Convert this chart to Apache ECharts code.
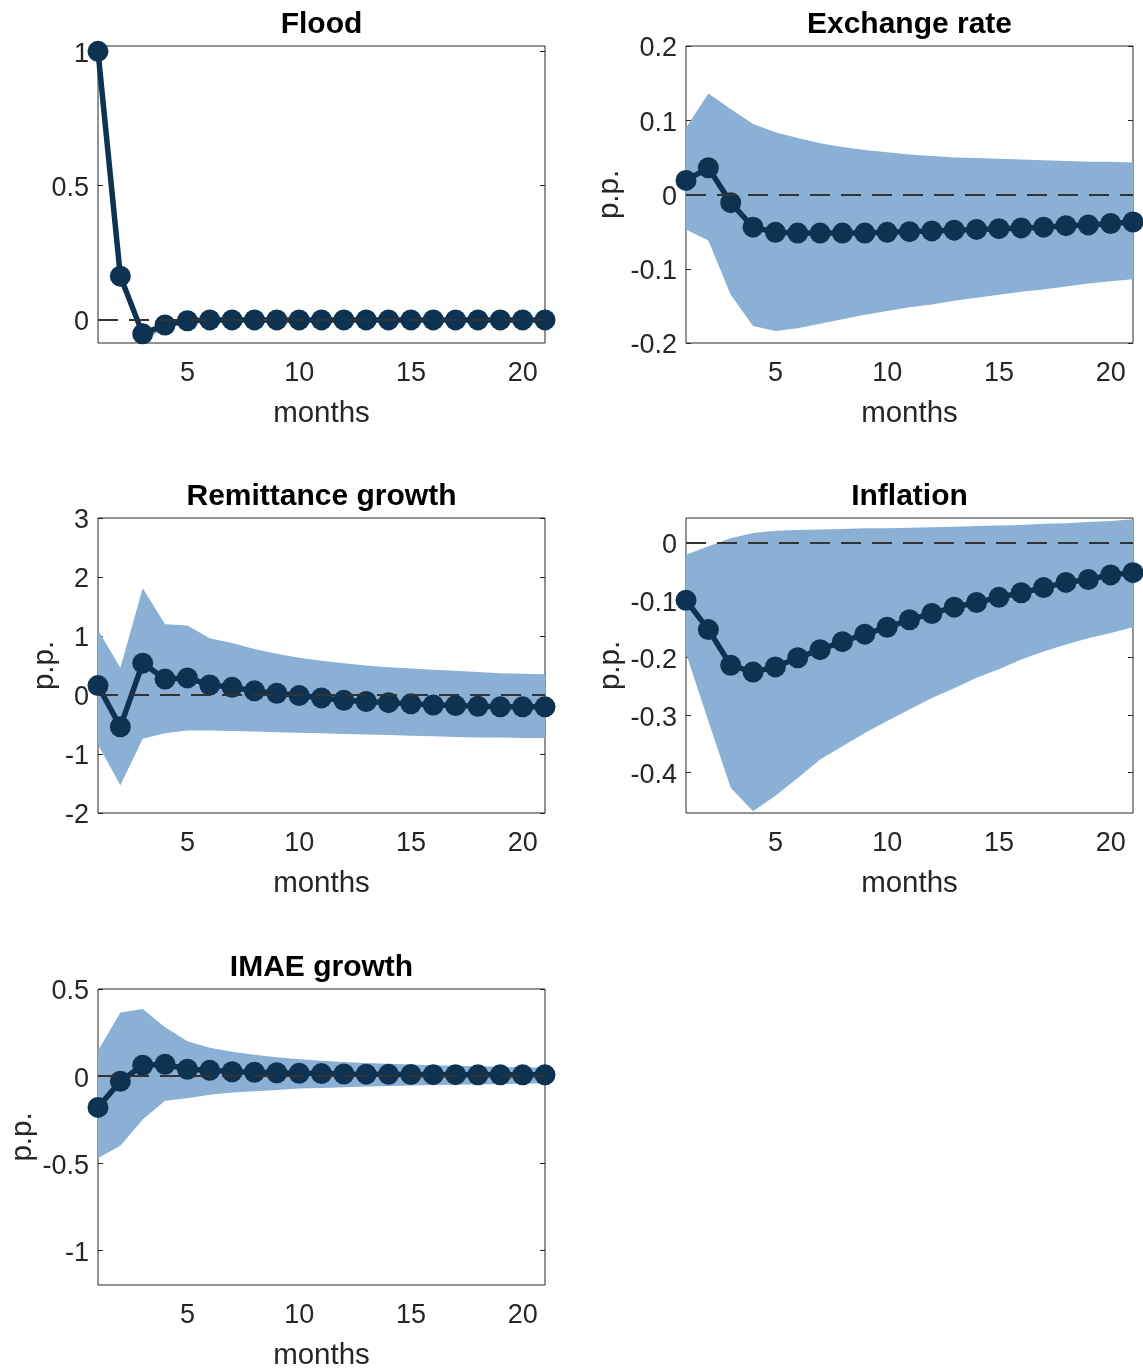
<!DOCTYPE html>
<html>
<head>
<meta charset="utf-8">
<script src="https://cdn.jsdelivr.net/npm/echarts@6/dist/echarts.min.js"></script>
<style>
  html, body { margin: 0; padding: 0; background: #fff; }
  #chart { width: 1143px; height: 1371px; }
</style>
</head>
<body>
<div id="chart"></div>
<script>
// Impulse responses to a flood shock, with confidence bands
const months = [1, 2, 3, 4, 5, 6, 7, 8, 9, 10, 11, 12, 13, 14, 15, 16, 17, 18, 19, 20, 21];
const monthTicks = [5, 10, 15, 20];

const flood   = [1, 0.163, -0.052, -0.019, -0.003, 0, 0, 0, 0, 0, 0, 0, 0, 0, 0, 0, 0, 0, 0, 0, 0];
const floodLo = [1, 0.150, -0.080, -0.030, -0.006, 0, 0, 0, 0, 0, 0, 0, 0, 0, 0, 0, 0, 0, 0, 0, 0];
const floodHi = [1, 0.178, -0.040, -0.010, 0.001, 0, 0, 0, 0, 0, 0, 0, 0, 0, 0, 0, 0, 0, 0, 0, 0];
const floodTicks = [0, 0.5, 1];

const exchange   = [0.019, 0.036, -0.011, -0.044, -0.051, -0.052, -0.052, -0.052, -0.052, -0.051, -0.050, -0.049, -0.048, -0.047, -0.046, -0.045, -0.044, -0.042, -0.041, -0.039, -0.037];
const exchangeLo = [-0.047, -0.062, -0.135, -0.177, -0.184, -0.180, -0.174, -0.168, -0.162, -0.157, -0.152, -0.148, -0.143, -0.139, -0.135, -0.131, -0.128, -0.124, -0.120, -0.117, -0.114];
const exchangeHi = [0.090, 0.136, 0.115, 0.095, 0.084, 0.076, 0.069, 0.064, 0.060, 0.057, 0.054, 0.052, 0.050, 0.049, 0.048, 0.047, 0.046, 0.045, 0.044, 0.044, 0.043];
const exchangeTicks = [-0.2, -0.1, 0, 0.1, 0.2];

const remittance   = [0.16, -0.54, 0.54, 0.27, 0.29, 0.17, 0.13, 0.07, 0.03, -0.01, -0.05, -0.09, -0.11, -0.13, -0.15, -0.17, -0.18, -0.19, -0.20, -0.20, -0.20];
const remittanceLo = [-0.84, -1.53, -0.74, -0.65, -0.60, -0.60, -0.61, -0.62, -0.63, -0.64, -0.65, -0.66, -0.67, -0.68, -0.69, -0.70, -0.71, -0.72, -0.72, -0.73, -0.73];
const remittanceHi = [1.10, 0.46, 1.81, 1.20, 1.18, 0.96, 0.88, 0.78, 0.70, 0.63, 0.58, 0.54, 0.50, 0.47, 0.45, 0.43, 0.41, 0.39, 0.37, 0.36, 0.35];
const remittanceTicks = [-2, -1, 0, 1, 2, 3];

const inflation   = [-0.100, -0.151, -0.213, -0.225, -0.216, -0.200, -0.186, -0.172, -0.159, -0.147, -0.134, -0.123, -0.112, -0.104, -0.095, -0.087, -0.078, -0.069, -0.064, -0.056, -0.052];
const inflationLo = [-0.192, -0.310, -0.426, -0.467, -0.440, -0.409, -0.377, -0.354, -0.331, -0.310, -0.290, -0.270, -0.253, -0.235, -0.220, -0.203, -0.189, -0.177, -0.166, -0.157, -0.147];
const inflationHi = [-0.021, -0.006, 0.008, 0.017, 0.021, 0.022, 0.023, 0.024, 0.025, 0.025, 0.026, 0.027, 0.028, 0.029, 0.030, 0.031, 0.033, 0.034, 0.036, 0.038, 0.041];
const inflationTicks = [-0.4, -0.3, -0.2, -0.1, 0];

const imae   = [-0.180, -0.030, 0.062, 0.068, 0.039, 0.033, 0.025, 0.022, 0.019, 0.016, 0.014, 0.012, 0.011, 0.010, 0.009, 0.008, 0.008, 0.007, 0.007, 0.007, 0.007];
const imaeLo = [-0.47, -0.40, -0.25, -0.142, -0.128, -0.108, -0.095, -0.087, -0.080, -0.072, -0.068, -0.064, -0.060, -0.057, -0.054, -0.052, -0.050, -0.048, -0.046, -0.044, -0.042];
const imaeHi = [0.145, 0.365, 0.385, 0.280, 0.200, 0.163, 0.140, 0.122, 0.108, 0.097, 0.088, 0.081, 0.075, 0.070, 0.066, 0.062, 0.059, 0.056, 0.053, 0.051, 0.049];
const imaeTicks = [-1, -0.5, 0, 0.5];

// Panel layout: data references plus where each axes box sits
const panels = [
  { title: 'Flood',             mid: flood,      lo: floodLo,      hi: floodHi,      ticks: floodTicks,      yMin: -0.086, yMax: 1.02,  yName: '',     left: 98,  top: 46,  height: 297, nameGap: 61 },
  { title: 'Exchange rate',     mid: exchange,   lo: exchangeLo,   hi: exchangeHi,   ticks: exchangeTicks,   yMin: -0.2,   yMax: 0.2,   yName: 'p.p.', left: 686, top: 46,  height: 297, nameGap: 61 },
  { title: 'Remittance growth', mid: remittance, lo: remittanceLo, hi: remittanceHi, ticks: remittanceTicks, yMin: -2,     yMax: 3,     yName: 'p.p.', left: 98,  top: 518, height: 295, nameGap: 38 },
  { title: 'Inflation',         mid: inflation,  lo: inflationLo,  hi: inflationHi,  ticks: inflationTicks,  yMin: -0.47,  yMax: 0.043, yName: 'p.p.', left: 686, top: 518, height: 295, nameGap: 60 },
  { title: 'IMAE growth',       mid: imae,       lo: imaeLo,       hi: imaeHi,       ticks: imaeTicks,       yMin: -1.2,   yMax: 0.5,   yName: 'p.p.', left: 98,  top: 989, height: 296, nameGap: 60 }
];

const PANEL_W = 447;
const FONT = '"Liberation Sans", Arial, Helvetica, sans-serif';
const AXIS_COLOR = '#262626';
const LINE_COLOR = '#0E3352';
const BAND_COLOR = '#8AB0D5';

const grids = [], xAxes = [], yAxes = [], series = [], titles = [];

panels.forEach((p, i) => {
  grids.push({
    left: p.left, top: p.top, width: PANEL_W, height: p.height,
    show: true, borderColor: AXIS_COLOR, borderWidth: 1, backgroundColor: 'transparent',
    containLabel: false, outerBoundsMode: 'none'
  });

  titles.push({
    text: p.title,
    left: p.left + PANEL_W / 2,
    top: p.top - 36,
    textAlign: 'center',
    padding: 0,
    textStyle: { fontFamily: FONT, fontSize: 30, fontWeight: 'bold', color: '#000' }
  });

  // bottom axis with labels, top axis mirroring ticks only
  xAxes.push({
    type: 'value', gridIndex: i, position: 'bottom', min: 1, max: 21,
    name: 'months', nameLocation: 'middle', nameGap: 56,
    nameTextStyle: { fontFamily: FONT, fontSize: 29.5, color: AXIS_COLOR },
    axisLine: { show: false },
    axisTick: { show: true, inside: true, length: 5, customValues: monthTicks, lineStyle: { color: AXIS_COLOR } },
    axisLabel: { show: true, margin: 17, customValues: monthTicks, fontFamily: FONT, fontSize: 27, color: AXIS_COLOR },
    splitLine: { show: false }
  });
  xAxes.push({
    type: 'value', gridIndex: i, position: 'top', min: 1, max: 21,
    axisLine: { show: false },
    axisTick: { show: true, inside: true, length: 5, customValues: monthTicks, lineStyle: { color: AXIS_COLOR } },
    axisLabel: { show: false },
    splitLine: { show: false }
  });

  yAxes.push({
    type: 'value', gridIndex: i, position: 'left', min: p.yMin, max: p.yMax,
    name: p.yName, nameLocation: 'middle', nameGap: p.nameGap, nameRotate: 90,
    nameTextStyle: { fontFamily: FONT, fontSize: 29.5, color: AXIS_COLOR },
    axisLine: { show: false },
    axisTick: { show: true, inside: true, length: 5, customValues: p.ticks, lineStyle: { color: AXIS_COLOR } },
    axisLabel: {
      show: true, margin: 9, customValues: p.ticks,
      formatter: v => '{t|' + String(v) + '}',
      rich: { t: { fontFamily: FONT, fontSize: 27, color: AXIS_COLOR, padding: [6, 0, 0, 0] } }
    },
    splitLine: { show: false }
  });
  yAxes.push({
    type: 'value', gridIndex: i, position: 'right', min: p.yMin, max: p.yMax,
    axisLine: { show: false },
    axisTick: { show: true, inside: true, length: 5, customValues: p.ticks, lineStyle: { color: AXIS_COLOR } },
    axisLabel: { show: false },
    splitLine: { show: false }
  });

  const xi = i * 2, yi = i * 2;

  // confidence band as one filled polygon: upper edge forward, lower edge back
  series.push({
    type: 'custom',
    xAxisIndex: xi, yAxisIndex: yi,
    z: 1,
    silent: true,
    clip: true,
    data: months.map((m, k) => [m, p.lo[k], p.hi[k]]),
    encode: { x: 0, y: [1, 2] },
    renderItem: (params, api) => {
      if (params.dataIndexInside !== 0) return null;
      const n = params.dataInsideLength;
      const pts = [];
      for (let k = 0; k < n; k++) pts.push(api.coord([api.value(0, k), api.value(2, k)]));
      for (let k = n - 1; k >= 0; k--) pts.push(api.coord([api.value(0, k), api.value(1, k)]));
      return {
        type: 'polygon',
        shape: { points: pts },
        style: { fill: BAND_COLOR, stroke: null }
      };
    }
  });

  // point estimate with markers, zero reference line on top
  series.push({
    type: 'line',
    xAxisIndex: xi, yAxisIndex: yi,
    z: 3,
    clip: false,
    data: months.map((m, k) => [m, p.mid[k]]),
    symbol: 'circle',
    symbolSize: 21,
    showSymbol: true,
    lineStyle: { color: LINE_COLOR, width: 5.5 },
    itemStyle: { color: LINE_COLOR, borderWidth: 0 },
    emphasis: { disabled: true },
    markLine: {
      silent: true,
      symbol: 'none',
      label: { show: false },
      lineStyle: { color: '#333', width: 2, type: [20, 11] },
      data: [{ yAxis: 0 }]
    }
  });
});

const chart = echarts.init(document.getElementById('chart'), null, { renderer: 'canvas' });
chart.setOption({
  animation: false,
  backgroundColor: '#fff',
  title: titles,
  grid: grids,
  xAxis: xAxes,
  yAxis: yAxes,
  series: series
});
</script>
</body>
</html>
